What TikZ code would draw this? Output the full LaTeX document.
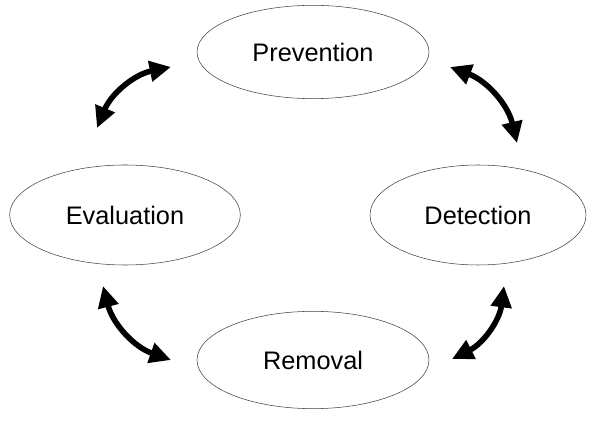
\documentclass[tikz,border=0pt]{standalone}
\usepackage{fontspec}
\setmainfont{Liberation Sans}
\usetikzlibrary{arrows.meta,shapes.geometric}

\begin{document}
\begin{tikzpicture}[x=0.75pt,y=-0.75pt]
    \useasboundingbox (0,0) rectangle (593,423);

    \begin{scope}[every node/.style={ellipse, draw=black!75, thin, font=\fontsize{19}{22}\selectfont}]
        \node[minimum width=174pt, minimum height=70pt] (prev) at (313,52) {Prevention};
        \node[minimum width=173pt, minimum height=75pt] (eval) at (125,215) {Evaluation};
        \node[minimum width=162pt, minimum height=75pt] (det) at (478,215) {Detection};
        \node[minimum width=174pt, minimum height=73pt] (rem) at (313,360) {Removal};
    \end{scope}

    % arrow ends
    \coordinate (e1) at (97,128);
    \coordinate (p1) at (171,67);
    \coordinate (p2) at (450,67);
    \coordinate (d1) at (517,143);
    \coordinate (d2) at (504,286);
    \coordinate (r1) at (452,359);
    \coordinate (r2) at (171,360);
    \coordinate (e2) at (103,286);

    \begin{scope}[>={Triangle[length=16pt,width=15pt]}, every edge/.style={draw, line width=4.2pt}]
        \path [<->] (e1) edge[bend left=28] (p1);
        \path [<->] (p2) edge[bend left=28] (d1);
        \path [<->] (d2) edge[bend left=28] (r1);
        \path [<->] (r2) edge[bend left=28] (e2);
    \end{scope}
\end{tikzpicture}
\end{document}
